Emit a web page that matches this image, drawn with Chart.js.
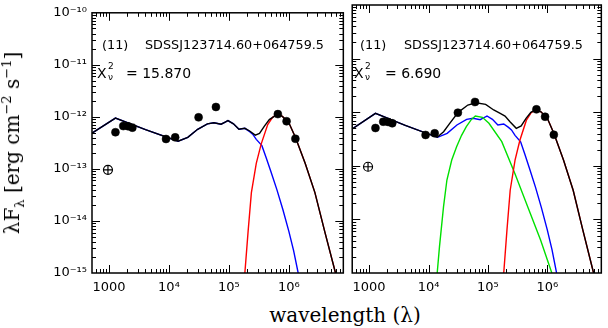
<!DOCTYPE html>
<html>
<head>
<meta charset="utf-8">
<script src="https://cdn.jsdelivr.net/npm/chart.js@4"></script>
<style>
  html, body { margin: 0; padding: 0; background: #fff; }
  #wrap { position: relative; width: 608px; height: 328px; overflow: hidden; background: #fff; }
  canvas { position: absolute; top: 0; }
  #left { left: 0; }
  #right { left: 349px; }
  .note { position: absolute; font-family: "DejaVu Sans", sans-serif; font-size: 14px; line-height: 14px; color: #000; white-space: pre; }
  .name { font-size: 12.8px; }
  .small { font-size: 9px; line-height: 9px; }
  .title { position: absolute; font-family: "DejaVu Serif", serif; font-size: 20px; line-height: 20px; color: #000; white-space: nowrap; }
  .title sub, .title sup { font-size: 13px; line-height: 0; }
  #ytitle { left: 12px; top: 143px; transform: translate(-50%, -50%) rotate(-90deg); }
  #xtitle { left: 345px; top: 315px; transform: translate(-50%, -50%); }
</style>
</head>
<body>
<div id="wrap">
  <canvas id="left" width="350" height="300"></canvas>
  <canvas id="right" width="259" height="300"></canvas>

  <div class="note name" style="left:102px; top:38px">(11)</div>
  <div class="note name" style="left:145px; top:38px">SDSSJ123714.60+064759.5</div>
  <div class="note" style="left:97px; top:66px">Χ</div>
  <div class="note small" style="left:108px; top:62px">2</div>
  <div class="note small" style="left:108px; top:73px">ν</div>
  <div class="note" style="left:126px; top:66px">= 15.870</div>

  <div class="note name" style="left:360px; top:38px">(11)</div>
  <div class="note name" style="left:404px; top:38px">SDSSJ123714.60+064759.5</div>
  <div class="note" style="left:354px; top:66px">Χ</div>
  <div class="note small" style="left:365px; top:62px">2</div>
  <div class="note small" style="left:365px; top:73px">ν</div>
  <div class="note" style="left:385px; top:66px">= 6.690</div>

  <div id="ytitle" class="title">λF<sub>λ</sub> [erg cm<sup>−2</sup> s<sup>−1</sup>]</div>
  <div id="xtitle" class="title">wavelength (λ)</div>
</div>
<script>
// axes
const xMin = 520, xMax = 8.1e6;
const yMin = 1e-15, yMax = 1e-10;
const xMajor = [1e3, 1e4, 1e5, 1e6];
const xLabels = ['1000', '10⁴', '10⁵', '10⁶'];
const yMajor = [1e-15, 1e-14, 1e-13, 1e-12, 1e-11, 1e-10];
const yLabels = ['10⁻¹⁵', '10⁻¹⁴', '10⁻¹³', '10⁻¹²', '10⁻¹¹', '10⁻¹⁰'];

// photometry
const photLambda = [1280, 1730, 2090, 2450, 8930, 12700, 31200, 60700, 655000, 916000, 1285000];
const photFlux = [5.07e-13, 6.65e-13, 6.57e-13, 6.21e-13, 3.76e-13, 4.04e-13, 9.8e-13, 1.55e-12, 1.13e-12, 8.24e-13, 3.8e-13];
const limitLambda = [960];
const limitFlux = [9.6e-14];

// blue component (both panels)
const blueLambda = [520, 1280, 4060, 14200, 20600, 30100, 43800, 56200, 74000, 85100, 96400, 119000, 147000, 184500, 222000, 249000, 286000, 355000, 417000, 501000, 631000, 794000, 1000000, 1200000, 1430000];
const blueFlux = [4.87e-13, 9.5e-13, 5.69e-13, 3.40e-13, 4.04e-13, 5.77e-13, 7.36e-13, 7.69e-13, 7.24e-13, 7.88e-13, 8.49e-13, 7.36e-13, 5.77e-13, 6.02e-13, 5.2e-13, 4.66e-13, 3.7e-13, 2.8e-13, 1.66e-13, 8.9e-14, 4.0e-14, 1.66e-14, 6.3e-15, 2.7e-15, 1.0e-15];

// red component (both panels)
const redLambda = [184500, 209000, 237000, 286000, 345000, 444000, 535000, 640000, 780000, 1000000, 1290000, 1870000, 2720000, 3960000, 6000000];
const redFlux = [1.0e-15, 6.3e-15, 3.5e-14, 1.28e-13, 3.0e-13, 7.1e-13, 9.8e-13, 1.12e-12, 1.02e-12, 7.7e-13, 4.0e-13, 1.28e-13, 3.5e-14, 6.3e-15, 1.0e-15];

// green component (right panel)
const greenLambda = [14000, 15300, 17900, 20400, 24600, 29700, 36000, 43300, 52000, 61400, 80700, 104000, 171000, 283000, 467000, 769000, 1190000];
const greenFlux = [1.0e-15, 3.1e-15, 1.73e-14, 5.43e-14, 1.28e-13, 2.27e-13, 3.7e-13, 5.36e-13, 7.2e-13, 8.49e-13, 8.03e-13, 6.21e-13, 2.82e-13, 7.24e-14, 1.73e-14, 4.13e-15, 1.0e-15];

// total model, left panel
const totalLeftLambda = [520, 1280, 4060, 14200, 20600, 30100, 43800, 56200, 74000, 85100, 96400, 119000, 147000, 184500, 222000, 275000, 324000, 391000, 472000, 640000, 780000, 1000000, 1290000, 1870000, 2720000, 3960000, 6000000];
const totalLeftFlux = [4.87e-13, 9.5e-13, 5.69e-13, 3.40e-13, 4.04e-13, 5.77e-13, 7.36e-13, 7.69e-13, 7.24e-13, 7.88e-13, 8.49e-13, 7.36e-13, 5.77e-13, 6.02e-13, 5.36e-13, 4.46e-13, 4.80e-13, 6.65e-13, 8.87e-13, 1.12e-12, 1.02e-12, 7.7e-13, 4.0e-13, 1.28e-13, 3.5e-14, 6.3e-15, 1.0e-15];

// total model, right panel
const totalRightLambda = [520, 1280, 4060, 14000, 17950, 23100, 31600, 45900, 62800, 91600, 125000, 161000, 194000, 235000, 300000, 363000, 438000, 528000, 640000, 780000, 1000000, 1290000, 1870000, 2720000, 3960000, 6000000];
const totalRightFlux = [4.87e-13, 9.5e-13, 5.69e-13, 3.40e-13, 4.33e-13, 6.3e-13, 9.95e-13, 1.36e-12, 1.50e-12, 1.40e-12, 1.10e-12, 9.5e-13, 8.49e-13, 6.65e-13, 5.01e-13, 5.53e-13, 7.69e-13, 9.95e-13, 1.12e-12, 1.02e-12, 7.7e-13, 4.0e-13, 1.28e-13, 3.5e-14, 6.3e-15, 1.0e-15];

Chart.defaults.font.family = '"DejaVu Sans", sans-serif';
Chart.defaults.color = '#000';

function pts(xs, ys) {
  return xs.map((x, i) => ({x: x, y: ys[i]}));
}

function logTicks(min, max) {
  const out = [];
  for (let e = Math.floor(Math.log10(min)); e <= Math.ceil(Math.log10(max)); e++) {
    for (let m = 1; m <= 9; m++) {
      const v = m * Math.pow(10, e);
      if (v >= min * 0.999999 && v <= max * 1.000001) out.push(v);
    }
  }
  return out;
}

function isDecade(v) {
  const l = Math.log10(v);
  return Math.abs(l - Math.round(l)) < 1e-6;
}

function labelFor(majors, labels) {
  return v => {
    const i = majors.findIndex(m => Math.abs(m - v) <= m * 1e-6);
    return i < 0 ? '' : labels[i];
  };
}

// frame and inward ticks on all four sides
const frameTicks = {
  id: 'frameTicks',
  afterDraw(chart) {
    const {ctx, chartArea: a} = chart;
    const x = chart.scales.x, y = chart.scales.y;
    ctx.save();
    ctx.strokeStyle = '#000';
    ctx.lineWidth = 1;
    ctx.beginPath();
    logTicks(xMin, xMax).forEach(v => {
      const px = Math.round(x.getPixelForValue(v)) + 0.5;
      if (px <= a.left + 1 || px >= a.right - 1) return;
      const len = isDecade(v) ? 8 : 4;
      ctx.moveTo(px, a.bottom); ctx.lineTo(px, a.bottom - len);
      ctx.moveTo(px, a.top); ctx.lineTo(px, a.top + len);
    });
    logTicks(yMin, yMax).forEach(v => {
      const py = Math.round(y.getPixelForValue(v)) + 0.5;
      if (py <= a.top + 1 || py >= a.bottom - 1) return;
      const len = isDecade(v) ? 8 : 4;
      ctx.moveTo(a.left, py); ctx.lineTo(a.left + len, py);
      ctx.moveTo(a.right, py); ctx.lineTo(a.right - len, py);
    });
    ctx.stroke();
    ctx.lineWidth = 1.5;
    ctx.strokeRect(a.left, a.top, a.right - a.left, a.bottom - a.top);
    ctx.restore();
  }
};

function line(xs, ys, color) {
  return {
    data: pts(xs, ys), showLine: true, borderColor: color, borderWidth: 1.4,
    pointRadius: 0, tension: 0, fill: false
  };
}

function markers() {
  return [
    {data: pts(photLambda, photFlux), backgroundColor: '#000', borderColor: '#000', borderWidth: 0.5, pointRadius: 4},
    {data: pts(limitLambda, limitFlux), pointStyle: 'cross', borderColor: '#000', borderWidth: 1.2, pointRadius: 4.5},
    {data: pts(limitLambda, limitFlux), pointStyle: 'circle', backgroundColor: '#fff', borderColor: '#000', borderWidth: 1.2, pointRadius: 4.5}
  ];
}

function makeChart(id, datasets, showY) {
  const yAxis = {
    type: 'logarithmic', min: yMin, max: yMax,
    grid: {display: false, drawTicks: false}, border: {display: false},
    afterBuildTicks: s => { s.ticks = logTicks(yMin, yMax).map(v => ({value: v})); }
  };
  if (showY) {
    yAxis.ticks = {autoSkip: false, padding: 5, font: {size: 13}, callback: labelFor(yMajor, yLabels)};
    yAxis.afterFit = s => { s.width = 92; };
  } else {
    yAxis.ticks = {display: false};
    yAxis.afterFit = s => { s.width = 0; };
  }
  return new Chart(document.getElementById(id), {
    type: 'scatter',
    data: {datasets: datasets},
    options: {
      responsive: false,
      animation: false,
      devicePixelRatio: 1,
      events: [],
      layout: {autoPadding: false, padding: {left: 0, right: 1, top: 5, bottom: 0}},
      plugins: {legend: {display: false}, tooltip: {enabled: false}},
      scales: {
        x: {
          type: 'logarithmic', min: xMin, max: xMax,
          grid: {display: false, drawTicks: false}, border: {display: false},
          afterBuildTicks: s => { s.ticks = logTicks(xMin, xMax).map(v => ({value: v})); },
          afterFit: s => { s.height = 27; },
          ticks: {autoSkip: false, maxRotation: 0, minRotation: 0, padding: 7, font: {size: 13}, callback: labelFor(xMajor, xLabels)}
        },
        y: yAxis
      }
    },
    plugins: [frameTicks]
  });
}

makeChart('left', markers().concat([
  line(totalLeftLambda, totalLeftFlux, '#000'),
  line(redLambda, redFlux, '#ff0000'),
  line(blueLambda, blueFlux, '#0000ff')
]), true);

makeChart('right', markers().concat([
  line(totalRightLambda, totalRightFlux, '#000'),
  line(redLambda, redFlux, '#ff0000'),
  line(greenLambda, greenFlux, '#00e000'),
  line(blueLambda, blueFlux, '#0000ff')
]), false);
</script>
</body>
</html>
